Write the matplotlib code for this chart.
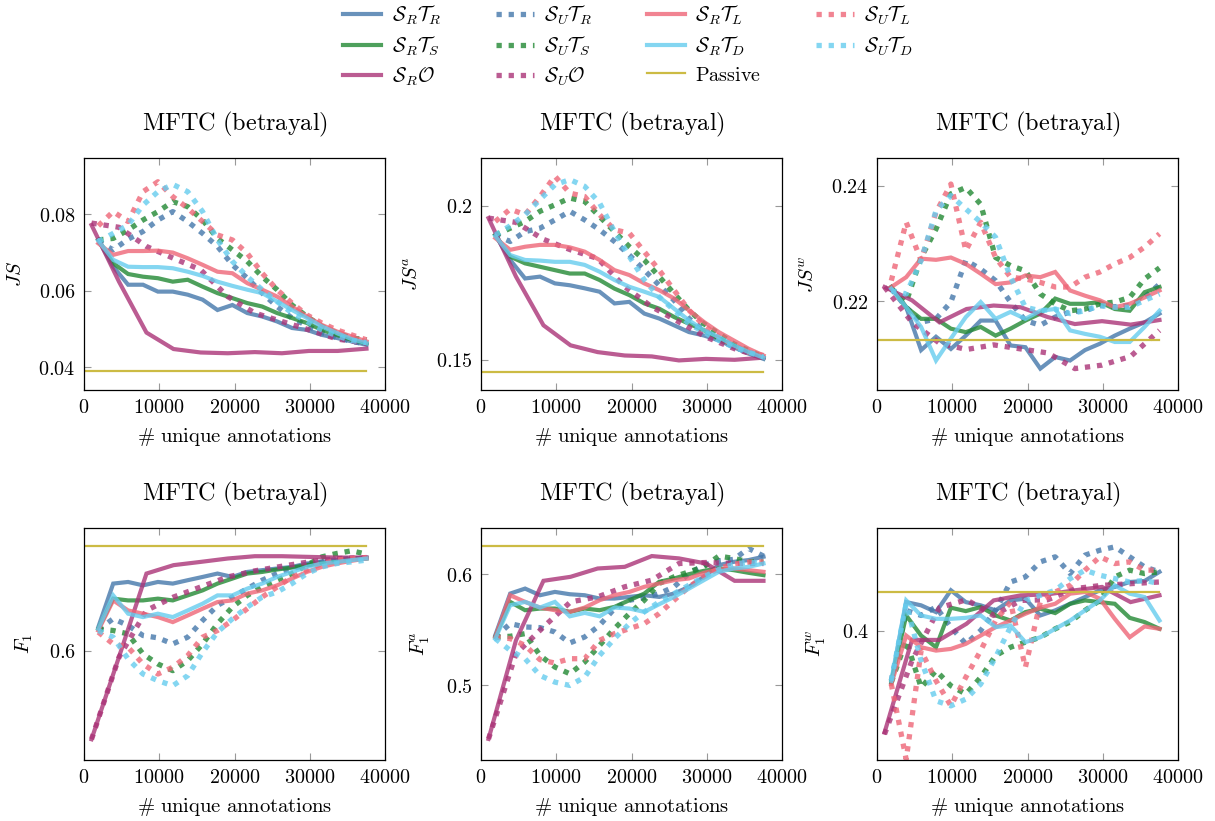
import numpy as np
import matplotlib
matplotlib.use("Agg")
import matplotlib.pyplot as plt
from matplotlib.ticker import FuncFormatter
from matplotlib.lines import Line2D

plt.rcParams['mathtext.fontset'] = 'cm'
plt.rcParams['font.family'] = 'serif'
plt.rcParams['font.serif'] = ['DejaVu Serif']

# annotation counts at which the curves were evaluated
x_fine = [1900, 3880, 5860, 7840, 9820, 11800, 13780, 15760, 17740, 19720,
          21700, 23680, 25660, 27640, 29620, 31600, 33580, 35560, 37540]
x_coarse = [1000, 4650, 8300, 11900, 15500, 19100, 22700, 26300, 29900, 33700, 37540]

# ---- JS
js_sr_tr = [0.0733, 0.0663, 0.0616, 0.0616, 0.0598, 0.0598, 0.0590, 0.0577, 0.0550, 0.0563, 0.0542, 0.0533, 0.0520, 0.0503, 0.0498, 0.0485, 0.0477, 0.0468, 0.0459]
js_sr_ts = [0.0733, 0.0672, 0.0644, 0.0637, 0.0633, 0.0624, 0.0629, 0.0611, 0.0594, 0.0581, 0.0568, 0.0559, 0.0542, 0.0529, 0.0516, 0.0498, 0.0485, 0.0472, 0.0463]
js_sr_td = [0.0731, 0.0681, 0.0663, 0.0662, 0.0662, 0.0659, 0.0650, 0.0639, 0.0624, 0.0613, 0.0603, 0.0594, 0.0572, 0.0550, 0.0529, 0.0507, 0.0490, 0.0474, 0.0463]
js_sr_tl = [0.0724, 0.0694, 0.0704, 0.0704, 0.0705, 0.0700, 0.0685, 0.0668, 0.0650, 0.0646, 0.0620, 0.0603, 0.0585, 0.0559, 0.0533, 0.0511, 0.0494, 0.0481, 0.0468]
js_sr_o = [0.0772, 0.0624, 0.0491, 0.0448, 0.0439, 0.0437, 0.0440, 0.0437, 0.0443, 0.0443, 0.0449]
js_su_tr = [0.0729, 0.0707, 0.0735, 0.0755, 0.0785, 0.0807, 0.0781, 0.0750, 0.0716, 0.0668, 0.0633, 0.0594, 0.0559, 0.0529, 0.0509, 0.0491, 0.0478, 0.0468, 0.0461]
js_su_ts = [0.0733, 0.0737, 0.0759, 0.0785, 0.0807, 0.0833, 0.0820, 0.0785, 0.0737, 0.0707, 0.0677, 0.0637, 0.0603, 0.0563, 0.0533, 0.0507, 0.0490, 0.0477, 0.0472]
js_su_tl = [0.0770, 0.0807, 0.0781, 0.0859, 0.0885, 0.0846, 0.0816, 0.0781, 0.0746, 0.0733, 0.0698, 0.0646, 0.0603, 0.0568, 0.0537, 0.0516, 0.0498, 0.0485, 0.0472]
js_su_td = [0.0729, 0.0750, 0.0772, 0.0824, 0.0859, 0.0878, 0.0859, 0.0807, 0.0733, 0.0677, 0.0637, 0.0603, 0.0572, 0.0542, 0.0520, 0.0498, 0.0483, 0.0470, 0.0465]
js_su_o = [0.0777, 0.0766, 0.0716, 0.0685, 0.0655, 0.0585, 0.0542, 0.0520, 0.0498, 0.0474, 0.0463]
js_passive = 0.0391

# ---- JS^a
jsa_sr_tr = [0.1905, 0.1824, 0.1764, 0.1770, 0.1748, 0.1742, 0.1732, 0.1721, 0.1683, 0.1688, 0.1650, 0.1634, 0.1612, 0.1590, 0.1579, 0.1563, 0.1541, 0.1520, 0.1503]
jsa_sr_ts = [0.1905, 0.1835, 0.1813, 0.1802, 0.1791, 0.1780, 0.1780, 0.1759, 0.1731, 0.1710, 0.1683, 0.1666, 0.1639, 0.1617, 0.1596, 0.1568, 0.1547, 0.1525, 0.1507]
jsa_sr_td = [0.1902, 0.1840, 0.1824, 0.1822, 0.1818, 0.1818, 0.1808, 0.1786, 0.1759, 0.1737, 0.1721, 0.1704, 0.1666, 0.1628, 0.1596, 0.1574, 0.1547, 0.1525, 0.1507]
jsa_sr_tl = [0.1895, 0.1857, 0.1867, 0.1873, 0.1873, 0.1865, 0.1851, 0.1824, 0.1791, 0.1775, 0.1748, 0.1726, 0.1699, 0.1661, 0.1623, 0.1590, 0.1563, 0.1536, 0.1514]
jsa_sr_o = [0.1960, 0.1770, 0.1612, 0.1547, 0.1525, 0.1514, 0.1511, 0.1498, 0.1503, 0.1500, 0.1507]
jsa_su_tr = [0.1905, 0.1884, 0.1916, 0.1927, 0.1954, 0.1982, 0.1954, 0.1922, 0.1884, 0.1840, 0.1791, 0.1742, 0.1693, 0.1634, 0.1596, 0.1568, 0.1541, 0.1525, 0.1507]
jsa_su_ts = [0.1905, 0.1927, 0.1949, 0.1982, 0.2003, 0.2025, 0.2014, 0.1965, 0.1916, 0.1867, 0.1824, 0.1770, 0.1715, 0.1661, 0.1617, 0.1585, 0.1552, 0.1530, 0.1509]
jsa_su_tl = [0.1949, 0.1989, 0.1971, 0.2030, 0.2096, 0.2041, 0.2030, 0.1971, 0.1922, 0.1911, 0.1851, 0.1791, 0.1726, 0.1661, 0.1612, 0.1574, 0.1547, 0.1525, 0.1514]
jsa_su_td = [0.1905, 0.1935, 0.1971, 0.2020, 0.2068, 0.2085, 0.2063, 0.2009, 0.1916, 0.1835, 0.1759, 0.1704, 0.1661, 0.1617, 0.1590, 0.1563, 0.1541, 0.1525, 0.1509]
jsa_su_o = [0.1960, 0.1946, 0.1891, 0.1857, 0.1829, 0.1737, 0.1672, 0.1623, 0.1574, 0.1536, 0.1507]
jsa_passive = 0.1462

# ---- JS^w
jsw_sr_tr = [0.2225, 0.2190, 0.2116, 0.2139, 0.2118, 0.2141, 0.2167, 0.2167, 0.2124, 0.2121, 0.2084, 0.2104, 0.2098, 0.2116, 0.2127, 0.2141, 0.2153, 0.2164, 0.2179]
jsw_sr_ts = [0.2225, 0.2190, 0.2170, 0.2170, 0.2153, 0.2147, 0.2156, 0.2141, 0.2153, 0.2167, 0.2179, 0.2205, 0.2196, 0.2196, 0.2199, 0.2187, 0.2184, 0.2216, 0.2225]
jsw_sr_td = [0.2222, 0.2190, 0.2156, 0.2098, 0.2136, 0.2173, 0.2199, 0.2170, 0.2182, 0.2170, 0.2184, 0.2187, 0.2150, 0.2144, 0.2139, 0.2130, 0.2130, 0.2156, 0.2184]
jsw_sr_tl = [0.2225, 0.2242, 0.2274, 0.2272, 0.2276, 0.2265, 0.2248, 0.2230, 0.2233, 0.2245, 0.2242, 0.2251, 0.2219, 0.2210, 0.2202, 0.2190, 0.2196, 0.2207, 0.2219]
jsw_sr_o = [0.2225, 0.2202, 0.2164, 0.2187, 0.2193, 0.2190, 0.2173, 0.2161, 0.2166, 0.2160, 0.2168]
jsw_su_tr = [0.2222, 0.2190, 0.2164, 0.2170, 0.2199, 0.2271, 0.2256, 0.2236, 0.2199, 0.2167, 0.2159, 0.2173, 0.2182, 0.2184, 0.2193, 0.2191, 0.2193, 0.2207, 0.2230]
jsw_su_ts = [0.2222, 0.2199, 0.2276, 0.2325, 0.2386, 0.2397, 0.2368, 0.2276, 0.2262, 0.2253, 0.2213, 0.2196, 0.2184, 0.2187, 0.2196, 0.2199, 0.2207, 0.2239, 0.2258]
jsw_su_tl = [0.2236, 0.2337, 0.2271, 0.2354, 0.2403, 0.2288, 0.2337, 0.2276, 0.2242, 0.2239, 0.2233, 0.2225, 0.2225, 0.2242, 0.2251, 0.2265, 0.2276, 0.2294, 0.2317]
jsw_su_td = [0.2219, 0.2213, 0.2271, 0.2357, 0.2383, 0.2360, 0.2337, 0.2311, 0.2242, 0.2190, 0.2184, 0.2187, 0.2179, 0.2184, 0.2193, 0.2190, 0.2190, 0.2202, 0.2213]
jsw_su_o = [0.2225, 0.2164, 0.2128, 0.2117, 0.2125, 0.2118, 0.2111, 0.2084, 0.2090, 0.2105, 0.2150]
jsw_passive = 0.2134

# ---- F1
f1_sr_tr = [0.6173, 0.6494, 0.6506, 0.6481, 0.6506, 0.6494, 0.6519, 0.6543, 0.6568, 0.6543, 0.6580, 0.6593, 0.6605, 0.6617, 0.6642, 0.6654, 0.6667, 0.6679, 0.6686]
f1_sr_ts = [0.6160, 0.6383, 0.6370, 0.6370, 0.6383, 0.6370, 0.6407, 0.6444, 0.6494, 0.6531, 0.6568, 0.6580, 0.6598, 0.6612, 0.6630, 0.6642, 0.6654, 0.6672, 0.6679]
f1_sr_td = [0.6160, 0.6407, 0.6272, 0.6247, 0.6272, 0.6247, 0.6296, 0.6346, 0.6407, 0.6407, 0.6457, 0.6494, 0.6543, 0.6580, 0.6617, 0.6642, 0.6654, 0.6667, 0.6679]
f1_sr_tl = [0.6148, 0.6370, 0.6296, 0.6272, 0.6247, 0.6210, 0.6259, 0.6309, 0.6358, 0.6370, 0.6420, 0.6444, 0.6481, 0.6531, 0.6580, 0.6617, 0.6642, 0.6662, 0.6679]
f1_sr_o = [0.5346, 0.5953, 0.6568, 0.6630, 0.6654, 0.6679, 0.6696, 0.6696, 0.6691, 0.6686, 0.6686]
f1_su_tr = [0.6153, 0.6235, 0.6185, 0.6111, 0.6094, 0.6049, 0.6099, 0.6222, 0.6333, 0.6395, 0.6457, 0.6519, 0.6568, 0.6605, 0.6630, 0.6654, 0.6672, 0.6679, 0.6679]
f1_su_ts = [0.6160, 0.6148, 0.6123, 0.5975, 0.5901, 0.5852, 0.5926, 0.6049, 0.6198, 0.6321, 0.6407, 0.6469, 0.6519, 0.6568, 0.6630, 0.6691, 0.6716, 0.6736, 0.6711]
f1_su_tl = [0.6136, 0.6049, 0.6025, 0.5901, 0.5827, 0.5877, 0.5963, 0.6099, 0.6148, 0.6222, 0.6309, 0.6395, 0.6469, 0.6543, 0.6593, 0.6642, 0.6667, 0.6679, 0.6686]
f1_su_td = [0.6148, 0.6099, 0.5938, 0.5827, 0.5778, 0.5741, 0.5815, 0.5988, 0.6136, 0.6235, 0.6321, 0.6395, 0.6432, 0.6494, 0.6568, 0.6617, 0.6642, 0.6654, 0.6667]
f1_su_o = [0.5346, 0.5951, 0.6296, 0.6395, 0.6469, 0.6543, 0.6588, 0.6622, 0.6654, 0.6679, 0.6686]
f1_passive = 0.6770

# ---- F1^a
f1a_sr_tr = [0.5452, 0.5828, 0.5873, 0.5813, 0.5843, 0.5822, 0.5813, 0.5783, 0.5783, 0.5798, 0.5813, 0.5798, 0.5828, 0.5889, 0.5979, 0.6084, 0.6114, 0.6130, 0.6160]
f1a_sr_ts = [0.5437, 0.5753, 0.5678, 0.5693, 0.5693, 0.5663, 0.5693, 0.5678, 0.5708, 0.5768, 0.5828, 0.5934, 0.5964, 0.6003, 0.6033, 0.6054, 0.6039, 0.6015, 0.5994]
f1a_sr_td = [0.5422, 0.5723, 0.5753, 0.5702, 0.5753, 0.5623, 0.5654, 0.5623, 0.5702, 0.5693, 0.5663, 0.5732, 0.5798, 0.5873, 0.5949, 0.6024, 0.6054, 0.6069, 0.6099]
f1a_sr_tl = [0.5437, 0.5813, 0.5753, 0.5702, 0.5678, 0.5663, 0.5702, 0.5768, 0.5813, 0.5843, 0.5889, 0.5919, 0.5949, 0.5964, 0.6015, 0.6045, 0.6054, 0.6039, 0.6024]
f1a_sr_o = [0.4518, 0.5407, 0.5943, 0.5979, 0.6054, 0.6069, 0.6166, 0.6145, 0.6099, 0.5943, 0.5943]
f1a_su_tr = [0.5437, 0.5557, 0.5527, 0.5521, 0.5482, 0.5383, 0.5437, 0.5542, 0.5693, 0.5768, 0.5792, 0.5828, 0.5889, 0.6009, 0.6084, 0.6123, 0.6136, 0.6235, 0.6166]
f1a_su_ts = [0.5437, 0.5443, 0.5467, 0.5271, 0.5166, 0.5105, 0.5211, 0.5361, 0.5512, 0.5648, 0.5768, 0.5919, 0.5979, 0.6024, 0.6069, 0.6166, 0.6145, 0.6114, 0.6114]
f1a_su_tl = [0.5437, 0.5422, 0.5361, 0.5232, 0.5202, 0.5241, 0.5241, 0.5407, 0.5467, 0.5512, 0.5557, 0.5648, 0.5768, 0.5889, 0.5979, 0.6054, 0.6093, 0.6111, 0.6114]
f1a_su_td = [0.5422, 0.5316, 0.5241, 0.5090, 0.5030, 0.5000, 0.5075, 0.5271, 0.5422, 0.5557, 0.5663, 0.5753, 0.5828, 0.5904, 0.5979, 0.6045, 0.6093, 0.6111, 0.6099]
f1a_su_o = [0.4518, 0.5286, 0.5527, 0.5753, 0.5798, 0.5889, 0.5949, 0.6099, 0.6108, 0.6099, 0.6099]
f1a_passive = 0.6256

# ---- F1^w
f1w_sr_tr = [0.3631, 0.4202, 0.4179, 0.4131, 0.4286, 0.4202, 0.4179, 0.4143, 0.4214, 0.4226, 0.4107, 0.4143, 0.4190, 0.4238, 0.4286, 0.4310, 0.4345, 0.4352, 0.4417]
f1w_sr_ts = [0.3631, 0.4107, 0.3964, 0.3881, 0.4162, 0.4138, 0.4167, 0.4107, 0.4071, 0.4131, 0.4155, 0.4124, 0.4190, 0.4214, 0.4202, 0.4190, 0.4090, 0.4060, 0.4012]
f1w_sr_td = [0.3643, 0.4214, 0.4107, 0.4083, 0.4083, 0.4090, 0.4107, 0.4024, 0.4036, 0.3917, 0.3952, 0.4012, 0.4071, 0.4143, 0.4214, 0.4321, 0.4262, 0.4238, 0.4071]
f1w_sr_tl = [0.3619, 0.3964, 0.3881, 0.3857, 0.3869, 0.3905, 0.3964, 0.4024, 0.4071, 0.4119, 0.4162, 0.4190, 0.4262, 0.4274, 0.4226, 0.4083, 0.3952, 0.4029, 0.4012]
f1w_sr_o = [0.3274, 0.3933, 0.3933, 0.4048, 0.4214, 0.4250, 0.4257, 0.4286, 0.4310, 0.4202, 0.4250]
f1w_su_tr = [0.3643, 0.4143, 0.4107, 0.4167, 0.4024, 0.3905, 0.4000, 0.4143, 0.4345, 0.4381, 0.4488, 0.4524, 0.4405, 0.4536, 0.4571, 0.4595, 0.4524, 0.4452, 0.4417]
f1w_su_ts = [0.3631, 0.3929, 0.3595, 0.3714, 0.3607, 0.3548, 0.3667, 0.3821, 0.3881, 0.3917, 0.3952, 0.4012, 0.4060, 0.4143, 0.4214, 0.4381, 0.4429, 0.4405, 0.4417]
f1w_su_tl = [0.3619, 0.3083, 0.3857, 0.3643, 0.3464, 0.3667, 0.3857, 0.4071, 0.4202, 0.3738, 0.4202, 0.4274, 0.4321, 0.4429, 0.4524, 0.4476, 0.4488, 0.4429, 0.4429]
f1w_su_td = [0.3643, 0.4190, 0.3786, 0.3500, 0.3464, 0.3512, 0.3619, 0.3810, 0.4024, 0.4214, 0.4250, 0.4286, 0.4369, 0.4429, 0.4393, 0.4369, 0.4345, 0.4357, 0.4333]
f1w_su_o = [0.3262, 0.3786, 0.4162, 0.4219, 0.4107, 0.4214, 0.4219, 0.4298, 0.4321, 0.4333, 0.4345]
f1w_passive = 0.4274

labels = [r'$\mathcal{S}_R\mathcal{T}_R$', r'$\mathcal{S}_R\mathcal{T}_S$', r'$\mathcal{S}_R\mathcal{O}$',
          r'$\mathcal{S}_U\mathcal{T}_R$', r'$\mathcal{S}_U\mathcal{T}_S$', r'$\mathcal{S}_U\mathcal{O}$',
          r'$\mathcal{S}_R\mathcal{T}_L$', r'$\mathcal{S}_R\mathcal{T}_D$', r'$\mathrm{Passive}$',
          r'$\mathcal{S}_U\mathcal{T}_L$', r'$\mathcal{S}_U\mathcal{T}_D$']

c_blue, c_green, c_purple = '#4477AA', '#228833', '#AA3377'
c_red, c_cyan, c_yellow = '#EE6677', '#66CCEE', '#CCBB44'

SOLID = dict(lw=3.0, alpha=0.8, solid_joinstyle='miter')
DOTTED = dict(lw=3.8, alpha=0.8, linestyle=(0, (1.0, 1.3)), dash_capstyle='butt')

panels = [
    (r'$JS$', [js_sr_tr, js_sr_ts, js_sr_o, js_su_tr, js_su_ts, js_su_o, js_sr_tl, js_sr_td, js_su_tl, js_su_td], js_passive, (0.0341, 0.0947), [0.04, 0.06, 0.08]),
    (r'$JS^a$', [jsa_sr_tr, jsa_sr_ts, jsa_sr_o, jsa_su_tr, jsa_su_ts, jsa_su_o, jsa_sr_tl, jsa_sr_td, jsa_su_tl, jsa_su_td], jsa_passive, (0.1402, 0.2155), [0.15, 0.2]),
    (r'$JS^w$', [jsw_sr_tr, jsw_sr_ts, jsw_sr_o, jsw_su_tr, jsw_su_ts, jsw_su_o, jsw_sr_tl, jsw_sr_td, jsw_su_tl, jsw_su_td], jsw_passive, (0.2047, 0.2448), [0.22, 0.24]),
    (r'$F_1$', [f1_sr_tr, f1_sr_ts, f1_sr_o, f1_su_tr, f1_su_ts, f1_su_o, f1_sr_tl, f1_sr_td, f1_su_tl, f1_su_td], f1_passive, (0.5193, 0.6904), [0.6]),
    (r'$F_1^a$', [f1a_sr_tr, f1a_sr_ts, f1a_sr_o, f1a_su_tr, f1a_su_ts, f1a_su_o, f1a_sr_tl, f1a_sr_td, f1a_su_tl, f1a_su_td], f1a_passive, (0.4328, 0.6419), [0.5, 0.6]),
    (r'$F_1^w$', [f1w_sr_tr, f1w_sr_ts, f1w_sr_o, f1w_su_tr, f1w_su_ts, f1w_su_o, f1w_sr_tl, f1w_sr_td, f1w_su_tl, f1w_su_td], f1w_passive, (0.3079, 0.4729), [0.4]),
]

W, H = 1215, 821
fig = plt.figure(figsize=(W / 100, H / 100), dpi=100)
lefts = [84, 481, 877]
tops = [158, 528]
aw, ah = 301, 232

fmt = FuncFormatter(lambda v, p: r'$%g$' % v)
FS = 14.5

for i, (ylab, s, passive, ylim, yt) in enumerate(panels):
    l = lefts[i % 3]
    t = tops[i // 3]
    ax = fig.add_axes([l / W, (H - t - ah) / H, aw / W, ah / H])
    sr_tr, sr_ts, sr_o, su_tr, su_ts, su_o, sr_tl, sr_td, su_tl, su_td = s
    ax.plot(x_fine, sr_tr, color=c_blue, **SOLID)
    ax.plot(x_fine, su_tr, color=c_blue, **DOTTED)
    ax.plot(x_fine, sr_ts, color=c_green, **SOLID)
    ax.plot(x_fine, su_ts, color=c_green, **DOTTED)
    ax.plot(x_coarse, sr_o, color=c_purple, **SOLID)
    ax.plot(x_coarse, su_o, color=c_purple, **DOTTED)
    ax.plot(x_fine, sr_tl, color=c_red, **SOLID)
    ax.plot(x_fine, su_tl, color=c_red, **DOTTED)
    ax.plot(x_fine, sr_td, color=c_cyan, **SOLID)
    ax.plot(x_fine, su_td, color=c_cyan, **DOTTED)
    ax.plot([200, 37540], [passive, passive], color=c_yellow, lw=1.6)

    ax.set_xlim(0, 40000)
    ax.set_ylim(*ylim)
    ax.set_xticks([0, 10000, 20000, 30000, 40000])
    ax.set_yticks(yt)
    ax.xaxis.set_major_formatter(fmt)
    ax.yaxis.set_major_formatter(fmt)
    ax.tick_params(direction='in', length=5, width=0.8, color='#999999',
                   top=True, right=True, labelsize=FS, pad=6)
    for sp in ax.spines.values():
        sp.set_linewidth(0.9)
    ax.set_title(r'$\mathrm{MFTC\ (betrayal)}$', fontsize=17.5, pad=20)
    ax.set_xlabel(r'$\#\ \mathrm{unique\ annotations}$', fontsize=14.8, labelpad=6)
    ax.set_ylabel(ylab, fontsize=FS, labelpad=10)

handles = [
    Line2D([], [], color=c_blue, **SOLID), Line2D([], [], color=c_green, **SOLID), Line2D([], [], color=c_purple, **SOLID),
    Line2D([], [], color=c_blue, **DOTTED), Line2D([], [], color=c_green, **DOTTED), Line2D([], [], color=c_purple, **DOTTED),
    Line2D([], [], color=c_red, **SOLID), Line2D([], [], color=c_cyan, **SOLID), Line2D([], [], color=c_yellow, lw=1.6),
    Line2D([], [], color=c_red, **DOTTED), Line2D([], [], color=c_cyan, **DOTTED),
]
fig.legend(handles, labels, loc='upper center', bbox_to_anchor=(0.517, 1.018), ncol=4, frameon=False,
           fontsize=14.5, handlelength=1.9, handletextpad=0.5, columnspacing=2.7, labelspacing=0.38)

fig.savefig('out.png', dpi=100)
